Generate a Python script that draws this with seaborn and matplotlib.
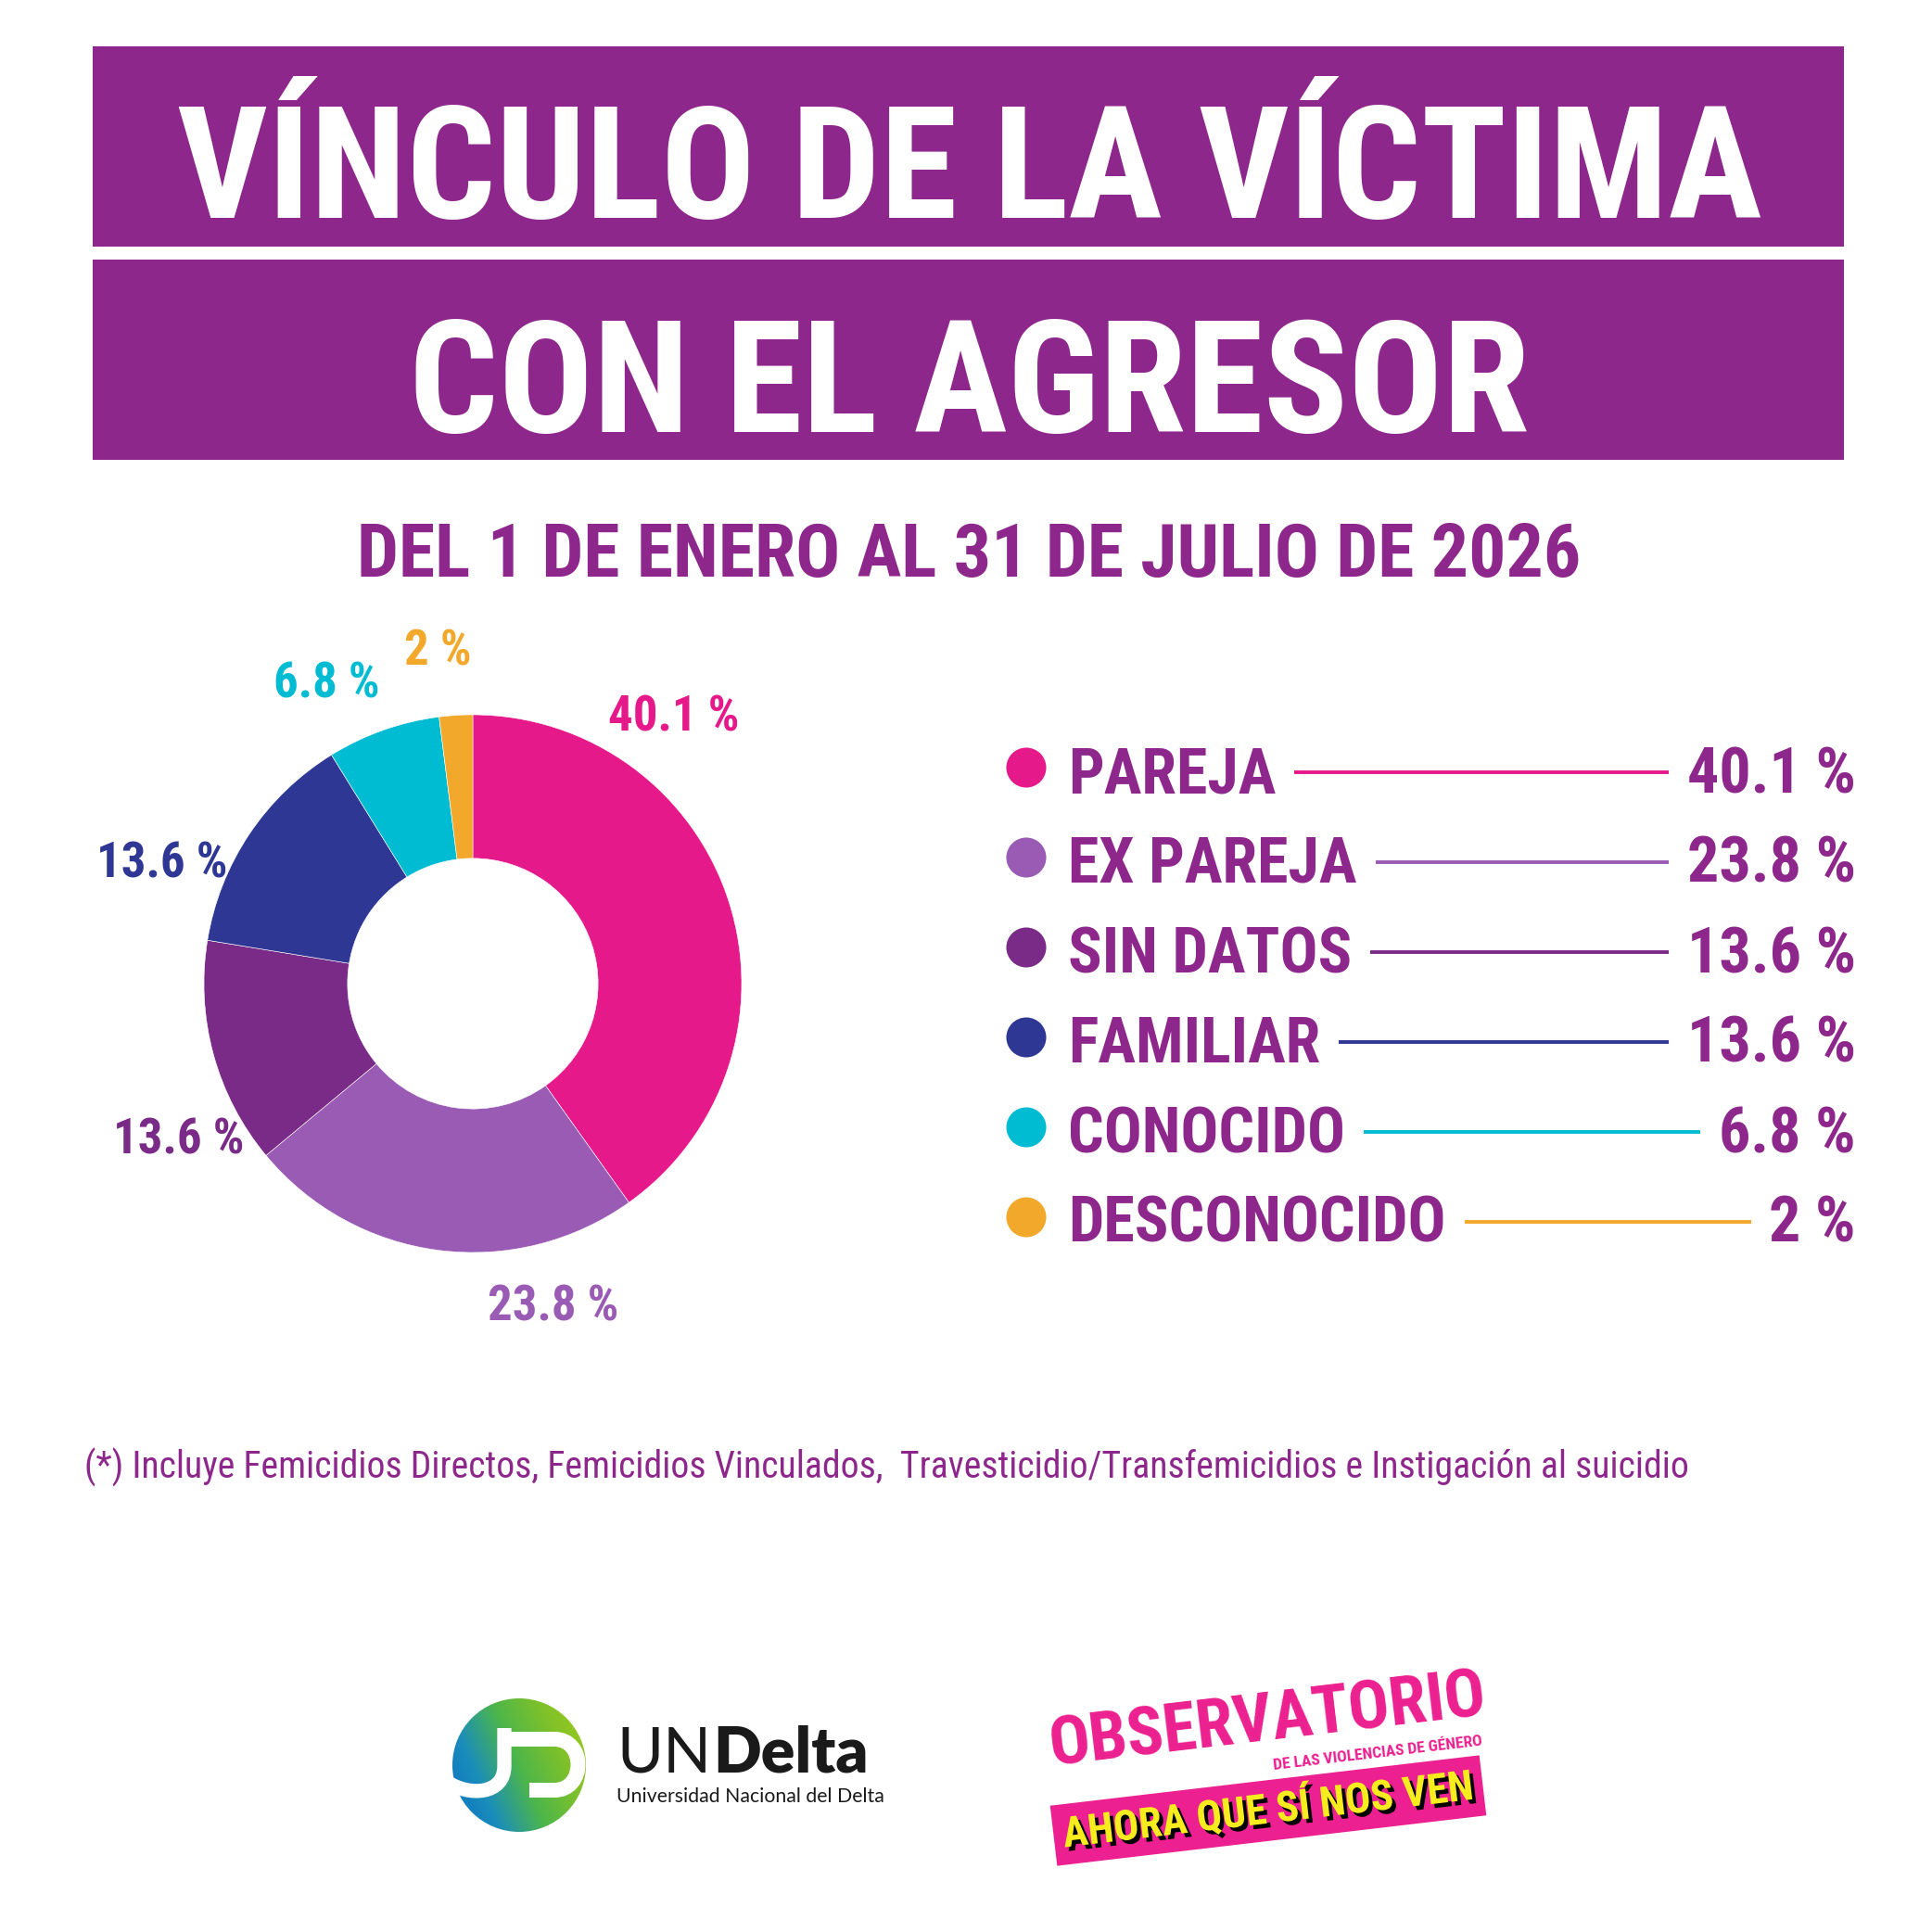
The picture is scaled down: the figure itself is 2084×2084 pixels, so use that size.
import numpy as np
import pandas as pd
import matplotlib
matplotlib.use("Agg")
from matplotlib import pyplot as plt
from matplotlib.patches import Rectangle, Circle, PathPatch
from matplotlib.path import Path
from matplotlib.colors import LinearSegmentedColormap
import matplotlib.patheffects as pe
import seaborn as sns

# --- data ---
categories = ["PAREJA", "EX PAREJA", "SIN DATOS", "FAMILIAR", "CONOCIDO", "DESCONOCIDO"]
values = [40.1, 23.8, 13.6, 13.6, 6.8, 2]
colors = ["#E6198A", "#9A5BB4", "#7A2A87", "#2E3794", "#00BCD3", "#F2A82A"]
value_labels = [f"{v:g} %" for v in values]

title_lines = ["VÍNCULO DE LA VÍCTIMA", "CON EL AGRESOR"]
subtitle = "DEL 1 DE ENERO AL 31 DE JULIO DE 2026"
footnote = ("(*) Incluye Femicidios Directos, Femicidios Vinculados,  "
            "Travesticidio/Transfemicidios e Instigación al suicidio")

# where the % labels sit around the donut (degrees)
label_angles = [53, -76, -152, 159, 116, 96]

purple = "#8E278C"
pink_logo = "#EC2090"
W = 2084

sns.set_theme(style="white")
# condensed faces first, whichever is installed gets used
narrow = ["Liberation Sans Narrow", "Roboto Condensed", "DejaVu Sans Condensed",
          "Open Sans Condensed", "Liberation Sans", "DejaVu Sans"]
plt.rcParams["font.family"] = narrow

fig = plt.figure(figsize=(20.84, 20.84), dpi=100, facecolor="white")
bg = fig.add_axes([0, 0, 1, 1])
bg.set_xlim(0, W)
bg.set_ylim(W, 0)
bg.axis("off")
renderer = fig.canvas.get_renderer()


def width_of(t):
    return t.get_window_extent(renderer).width


def shrink_to(t, max_w):
    w = width_of(t)
    if w > max_w:
        t.set_fontsize(t.get_fontsize() * max_w / w)


def set_width(t, target_w):
    t.set_fontsize(t.get_fontsize() * target_w / width_of(t))


# header banners
bg.add_patch(Rectangle((100, 50), 1889, 216, color=purple, lw=0))
bg.add_patch(Rectangle((100, 280), 1889, 216, color=purple, lw=0))
t1 = bg.text(1046, 235, title_lines[0], ha="center", va="baseline",
             color="white", fontsize=139, fontweight="bold")
t2 = bg.text(1046, 466, title_lines[1], ha="center", va="baseline",
             color="white", fontsize=139, fontweight="bold")
shrink_to(t1, 1710)
shrink_to(t2, 1240)
fs = min(t1.get_fontsize(), t2.get_fontsize())
t1.set_fontsize(fs)
t2.set_fontsize(fs)

ts = bg.text(1045, 622, subtitle, ha="center", va="baseline",
             color=purple, fontsize=62, fontweight="bold")
shrink_to(ts, 1320)

# donut
cx, cy, R = 510, 1061, 290
ax = fig.add_axes([(cx - R) / W, 1 - (cy + R) / W, 2 * R / W, 2 * R / W])
ax.pie(values, colors=colors, startangle=90, counterclock=False, radius=1,
       wedgeprops=dict(width=0.534, edgecolor="white", linewidth=0.4))
ax.set_xlim(-1, 1)
ax.set_ylim(-1, 1)
ax.set_aspect("equal")
ax.axis("off")
for ang, lab, col in zip(label_angles, value_labels, colors):
    a = np.deg2rad(ang)
    ax.text(1.24 * np.cos(a), 1.24 * np.sin(a), lab, ha="center", va="center",
            color=col, fontsize=38, fontweight="bold")

# legend
rows_y = 828 + 97 * np.arange(len(categories))
legend_df = pd.DataFrame({"category": categories, "x": 1107, "y": rows_y})
sns.scatterplot(data=legend_df, x="x", y="y", hue="category",
                palette=dict(zip(categories, colors)), s=961, linewidth=0,
                legend=False, ax=bg)
inv = bg.transData.inverted()
for cat, lab, col, y in zip(categories, value_labels, colors, rows_y):
    tl = bg.text(1152, y + 27, cat, ha="left", va="baseline", color=purple,
                 fontsize=49, fontweight="bold")
    tv = bg.text(2002, y + 27, lab, ha="right", va="baseline", color=purple,
                 fontsize=49, fontweight="bold")
    x0 = inv.transform((tl.get_window_extent(renderer).x1, 0))[0] + 20
    x1 = inv.transform((tv.get_window_extent(renderer).x0, 0))[0] - 20
    bg.hlines(y + 5, x0, x1, color=col, lw=2.8)

# footnote
tf = bg.text(91, 1583, footnote, ha="left", va="center", color=purple,
             fontsize=30)
set_width(tf, 1730)

# --- UNDelta logo ---
gx, gy = np.meshgrid(np.linspace(0, 1, 200), np.linspace(0, 1, 200))
grad = 0.7 * gx + 0.3 * (1 - gy)
cmap = LinearSegmentedColormap.from_list(
    "und", ["#0A6FC4", "#1A8DBB", "#4DB64A", "#7FC12A", "#A2CB1A"])
img = bg.imshow(grad, cmap=cmap, extent=(488, 632, 1976, 1832), aspect="auto",
                interpolation="bilinear", zorder=2)
img.set_clip_path(Circle((560, 1904), 72, transform=bg.transData))
u_path = Path([(544, 1864), (544, 1905), (544, 1936), (506, 1938), (482, 1922)],
              [Path.MOVETO, Path.LINETO, Path.CURVE4, Path.CURVE4, Path.CURVE4])
d_path = Path([(537, 1876), (598, 1876), (632, 1876), (632, 1931), (598, 1931),
               (571, 1931)],
              [Path.MOVETO, Path.LINETO, Path.CURVE4, Path.CURVE4, Path.CURVE4,
               Path.LINETO])
for p, lw in [(u_path, 11), (d_path, 11.5)]:
    bg.add_patch(PathPatch(p, fill=False, edgecolor="white", lw=lw,
                           capstyle="butt", zorder=3))

logo_font = ["Lato", "DejaVu Sans"]
tu = bg.text(665, 1912, "UN", ha="left", va="baseline", color="#1A1A1A",
             fontsize=49, fontweight="normal", family=logo_font)
ux = inv.transform((tu.get_window_extent(renderer).x1, 0))[0]
td = bg.text(ux + 2, 1912, "Delta", ha="left", va="baseline", color="#1A1A1A",
             fontsize=49, fontweight="heavy", family=logo_font)
tsub = bg.text(665, 1944, "Universidad Nacional del Delta", ha="left",
               va="baseline", color="#1A1A1A", fontsize=16,
               fontweight="normal", family=logo_font)
set_width(tsub, 290)

# --- Observatorio logo ---
rot = 6.7
to = bg.text(1368, 1858, "OBSERVATORIO", ha="center", va="center",
             color=pink_logo, fontsize=60, fontweight="bold")
set_width(to, 474)
to.set_rotation(rot)
to.set_rotation_mode("anchor")
tg = bg.text(1486, 1891, "DE LAS VIOLENCIAS DE GÉNERO", ha="center",
             va="center", color=pink_logo, fontsize=14, fontweight="bold")
set_width(tg, 228)
tg.set_rotation(rot)
tg.set_rotation_mode("anchor")
ta = bg.text(1368, 1953, "AHORA QUE SÍ NOS VEN", ha="center", va="center",
             color="#F7EC1E", fontsize=40, fontweight="bold",
             bbox=dict(boxstyle="square,pad=0.22", fc=pink_logo, ec="none"),
             path_effects=[pe.SimplePatchShadow(offset=(3, -3),
                                                shadow_rgbFace="black",
                                                alpha=1), pe.Normal()])
set_width(ta, 445)
ta.set_rotation(rot)
ta.set_rotation_mode("anchor")

bg.set_xlim(0, W)
bg.set_ylim(W, 0)

fig.savefig("out.png", dpi=100, facecolor="white")
